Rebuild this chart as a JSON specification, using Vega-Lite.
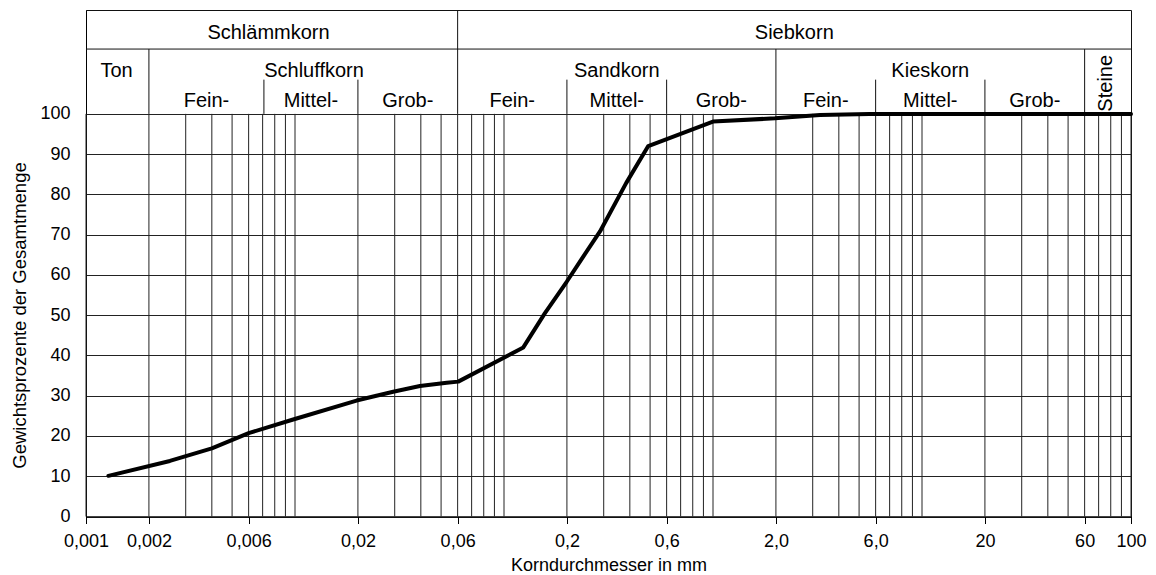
{
  "$schema": "https://vega.github.io/schema/vega-lite/v6.json",
  "autosize": {"type": "none"},
  "padding": {"left": 86, "top": 10, "right": 25, "bottom": 58},
  "width": 1045,
  "height": 506.5,
  "config": {
    "font": "Liberation Sans",
    "view": {"stroke": "#111", "strokeWidth": 1},
    "axis": {"labelColor": "#000", "titleColor": "#000", "labelFont": "Liberation Sans", "titleFont": "Liberation Sans", "titleFontWeight": "normal"}
  },
  "datasets": {
    "curve": [
      {"x": 0.00128, "y": 10.1},
      {"x": 0.00252, "y": 13.8},
      {"x": 0.004, "y": 16.9},
      {"x": 0.006, "y": 20.7},
      {"x": 0.0098, "y": 24.1},
      {"x": 0.0197, "y": 28.8},
      {"x": 0.0295, "y": 31.0},
      {"x": 0.0396, "y": 32.4},
      {"x": 0.0532, "y": 33.2},
      {"x": 0.0604, "y": 33.5},
      {"x": 0.1237, "y": 42.0},
      {"x": 0.157, "y": 50.5},
      {"x": 0.1995, "y": 58.3},
      {"x": 0.239, "y": 64.5},
      {"x": 0.288, "y": 70.8},
      {"x": 0.384, "y": 82.8},
      {"x": 0.49, "y": 92.0},
      {"x": 1.0, "y": 98.1},
      {"x": 1.98, "y": 98.9},
      {"x": 3.25, "y": 99.75},
      {"x": 5.6, "y": 100},
      {"x": 100, "y": 100}
    ],
    "grid": [
      {"x": 0.001}, {"x": 0.002}, {"x": 0.003}, {"x": 0.004}, {"x": 0.005}, {"x": 0.006}, {"x": 0.007}, {"x": 0.008}, {"x": 0.009},
      {"x": 0.01}, {"x": 0.02}, {"x": 0.03}, {"x": 0.04}, {"x": 0.05}, {"x": 0.06}, {"x": 0.07}, {"x": 0.08}, {"x": 0.09},
      {"x": 0.1}, {"x": 0.2}, {"x": 0.3}, {"x": 0.4}, {"x": 0.5}, {"x": 0.6}, {"x": 0.7}, {"x": 0.8}, {"x": 0.9},
      {"x": 1}, {"x": 2}, {"x": 3}, {"x": 4}, {"x": 5}, {"x": 6}, {"x": 7}, {"x": 8}, {"x": 9},
      {"x": 10}, {"x": 20}, {"x": 30}, {"x": 40}, {"x": 50}, {"x": 60}, {"x": 70}, {"x": 80}, {"x": 90},
      {"x": 100}
    ],
    "dividers": [
      {"x": 0.06, "top": 125.8},
      {"x": 0.002, "top": 116.1},
      {"x": 2, "top": 116.1},
      {"x": 60, "top": 116.1},
      {"x": 0.0071, "top": 108.5},
      {"x": 0.02, "top": 108.5},
      {"x": 0.2, "top": 108.5},
      {"x": 0.6, "top": 108.5},
      {"x": 6, "top": 108.5},
      {"x": 20, "top": 108.5}
    ],
    "headers": [
      {"t": "Schlämmkorn", "x": 0.00747, "y": 118.6},
      {"t": "Siebkorn", "x": 2.449, "y": 118.6},
      {"t": "Ton", "x": 0.0014, "y": 109.1},
      {"t": "Schluffkorn", "x": 0.01233, "y": 109.1},
      {"t": "Sandkorn", "x": 0.3464, "y": 109.1},
      {"t": "Kieskorn", "x": 10.954, "y": 109.1},
      {"t": "Fein-", "x": 0.00377, "y": 101.7},
      {"t": "Mittel-", "x": 0.01192, "y": 101.7},
      {"t": "Grob-", "x": 0.03464, "y": 101.7},
      {"t": "Fein-", "x": 0.1095, "y": 101.7},
      {"t": "Mittel-", "x": 0.3464, "y": 101.7},
      {"t": "Grob-", "x": 1.095, "y": 101.7},
      {"t": "Fein-", "x": 3.464, "y": 101.7},
      {"t": "Mittel-", "x": 10.954, "y": 101.7},
      {"t": "Grob-", "x": 34.64, "y": 101.7}
    ],
    "vertical": [
      {"t": "Steine", "x": 80.7, "y": 107.6}
    ],
    "rows": [
      {"y": 116.1}
    ]
  },
  "layer": [
    {
      "data": {"name": "grid"},
      "mark": {"type": "rule", "stroke": "#222", "strokeWidth": 1},
      "encoding": {
        "x": {"field": "x", "type": "quantitative", "scale": {"type": "log", "domain": [0.001, 100], "nice": false}},
        "y": {"datum": 0, "type": "quantitative", "scale": {"domain": [0, 125.8], "nice": false, "zero": false}},
        "y2": {"datum": 100}
      }
    },
    {
      "data": {"name": "dividers"},
      "mark": {"type": "rule", "stroke": "#111", "strokeWidth": 1},
      "encoding": {
        "x": {"field": "x", "type": "quantitative", "scale": {"type": "log", "domain": [0.001, 100], "nice": false}},
        "y": {"field": "top", "type": "quantitative", "scale": {"domain": [0, 125.8], "nice": false, "zero": false}},
        "y2": {"datum": 100}
      }
    },
    {
      "data": {"name": "rows"},
      "mark": {"type": "rule", "stroke": "#111", "strokeWidth": 1},
      "encoding": {
        "y": {"field": "y", "type": "quantitative", "scale": {"domain": [0, 125.8], "nice": false, "zero": false}},
        "x": {"datum": 0.001, "type": "quantitative", "scale": {"type": "log", "domain": [0.001, 100], "nice": false}},
        "x2": {"datum": 100}
      }
    },
    {
      "data": {"name": "headers"},
      "mark": {"type": "text", "fontSize": 20, "align": "center", "baseline": "alphabetic", "color": "#000"},
      "encoding": {
        "x": {"field": "x", "type": "quantitative", "scale": {"type": "log", "domain": [0.001, 100], "nice": false}},
        "y": {"field": "y", "type": "quantitative", "scale": {"domain": [0, 125.8], "nice": false, "zero": false}},
        "text": {"field": "t"}
      }
    },
    {
      "data": {"name": "vertical"},
      "mark": {"type": "text", "fontSize": 20, "angle": 270, "align": "center", "baseline": "alphabetic", "color": "#000"},
      "encoding": {
        "x": {"field": "x", "type": "quantitative", "scale": {"type": "log", "domain": [0.001, 100], "nice": false}},
        "y": {"field": "y", "type": "quantitative", "scale": {"domain": [0, 125.8], "nice": false, "zero": false}},
        "text": {"field": "t"}
      }
    },
    {
      "data": {"name": "curve"},
      "mark": {"type": "line", "stroke": "#000", "strokeWidth": 4, "strokeJoin": "round", "strokeCap": "round"},
      "encoding": {
        "x": {
          "field": "x", "type": "quantitative",
          "scale": {"type": "log", "domain": [0.001, 100], "nice": false},
          "axis": {
            "title": "Korndurchmesser in mm",
            "values": [0.001, 0.002, 0.006, 0.02, 0.06, 0.2, 0.6, 2, 6, 20, 60, 100],
            "labelExpr": "datum.value >= 10 ? format(datum.value, 'd') : replace(format(datum.value, datum.value >= 1 ? '.1f' : '~g'), '.', ',')",
            "grid": false,
            "domainColor": "#000",
            "ticks": true, "tickSize": 7, "tickColor": "#000",
            "labelFontSize": 18, "labelBaseline": "alphabetic", "labelPadding": 23,
            "labelFlush": false, "labelOverlap": false, "labelBound": false,
            "titleFontSize": 18, "titleBaseline": "alphabetic", "titleY": 53.5
          }
        },
        "y": {
          "field": "y", "type": "quantitative",
          "scale": {"domain": [0, 125.8], "nice": false, "zero": false},
          "axis": {
            "title": "Gewichtsprozente der Gesamtmenge",
            "values": [0, 10, 20, 30, 40, 50, 60, 70, 80, 90, 100],
            "grid": true, "gridColor": "#222", "gridWidth": 1, "gridOpacity": 1,
            "domainColor": "#000",
            "ticks": false,
            "labelFontSize": 18, "labelPadding": 16,
            "titleFontSize": 18.5, "titleAngle": 270, "titleBaseline": "alphabetic",
            "titleX": -61, "titleY": 305, "titleAlign": "center"
          }
        }
      }
    }
  ]
}
